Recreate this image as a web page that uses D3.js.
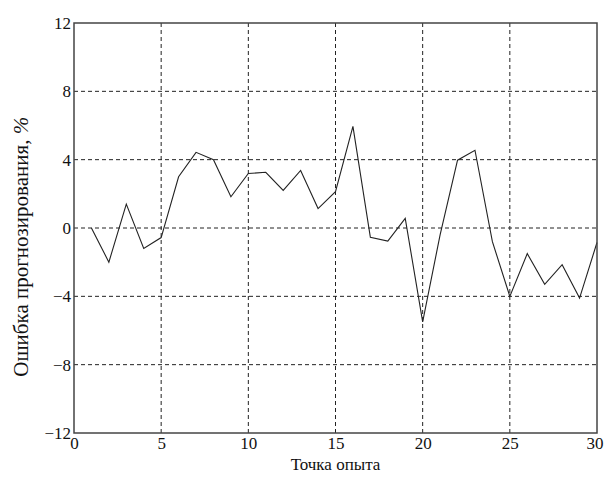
<!DOCTYPE html>
<html>
<head>
<meta charset="utf-8">
<script src="https://cdn.jsdelivr.net/npm/d3@7"></script>
</head>
<body style="margin:0; background:#fff">
<div id="chart"></div>
<script>
// experiment points and forecast error, %
const points = d3.range(1, 31);
const errors = [0, -2, 1.4, -1.2, -0.56, 3.0, 4.43, 4.0, 1.83, 3.19,
                3.26, 2.2, 3.37, 1.14, 2.13, 5.95, -0.54, -0.77, 0.56, -5.5,
                -0.4, 3.97, 4.55, -0.8, -4.0, -1.5, -3.3, -2.15, -4.1, -0.85];
const xTicks = [0, 5, 10, 15, 20, 25, 30];
const yTicks = [-12, -8, -4, 0, 4, 8, 12];

const width = 604;
const height = 479;
const margin = { top: 23, right: 7, bottom: 46, left: 74 };

const svg = d3.select('#chart')
    .append('svg')
    .attr('width', width)
    .attr('height', height);

const x = d3.scaleLinear()
    .domain([0, 30])
    .range([margin.left, width - margin.right]);

const y = d3.scaleLinear()
    .domain([-12, 12])
    .range([height - margin.bottom, margin.top]);

// dashed grid
svg.append('g')
    .selectAll('line')
    .data(xTicks.slice(1, -1))
    .join('line')
    .attr('x1', d => x(d)).attr('x2', d => x(d))
    .attr('y1', y(-12)).attr('y2', y(12))
    .attr('stroke', '#222')
    .attr('stroke-width', 1)
    .attr('stroke-dasharray', '4,3');

svg.append('g')
    .selectAll('line')
    .data(yTicks.slice(1, -1))
    .join('line')
    .attr('y1', d => y(d)).attr('y2', d => y(d))
    .attr('x1', x(0)).attr('x2', x(30))
    .attr('stroke', '#222')
    .attr('stroke-width', 1)
    .attr('stroke-dasharray', '4,3');

// the error line
const line = d3.line()
    .x((d, i) => x(points[i]))
    .y(d => y(d));

svg.append('path')
    .datum(errors)
    .attr('fill', 'none')
    .attr('stroke', '#222')
    .attr('stroke-width', 1.1)
    .attr('d', line);

// frame
svg.append('rect')
    .attr('x', x(0)).attr('y', y(12))
    .attr('width', x(30) - x(0))
    .attr('height', y(-12) - y(12))
    .attr('fill', 'none')
    .attr('stroke', '#444')
    .attr('stroke-width', 1.5);

// tick labels (axis generator, no lines)
const xg = svg.append('g')
    .attr('transform', `translate(0, ${y(-12)})`)
    .call(d3.axisBottom(x).tickValues(xTicks).tickSize(0).tickPadding(4));
xg.select('.domain').remove();
// last label sits against the page edge
xg.selectAll('.tick').filter(d => d === 30).select('text')
    .attr('text-anchor', 'end').attr('x', 6);

const yg = svg.append('g')
    .attr('transform', `translate(${x(0)}, 0)`)
    .call(d3.axisLeft(y).tickValues(yTicks).tickSize(0).tickPadding(3)
        .tickFormat(d => d < 0 ? '\u2212' + Math.abs(d) : d));
yg.select('.domain').remove();

// titles
svg.append('text')
    .attr('x', x(15))
    .attr('y', 470)
    .attr('text-anchor', 'middle')
    .text('Точка опыта');

const yl = svg.append('text')
    .attr('transform', `translate(28, ${y(-1.1)}) rotate(-90)`)
    .attr('text-anchor', 'middle');
yl.append('tspan').text('Ошибка прогнозирования, ');
yl.append('tspan').style('font-style', 'italic').text('%');

// one font for every text
svg.selectAll('g').attr('font-family', null).attr('font-size', null);
svg.selectAll('text')
    .style('font-family', "'Liberation Serif'")
    .style('font-size', '17px')
    .attr('fill', '#111');
// the vertical title is set larger in the original
yl.style('font-size', '21px');
</script>
</body>
</html>
